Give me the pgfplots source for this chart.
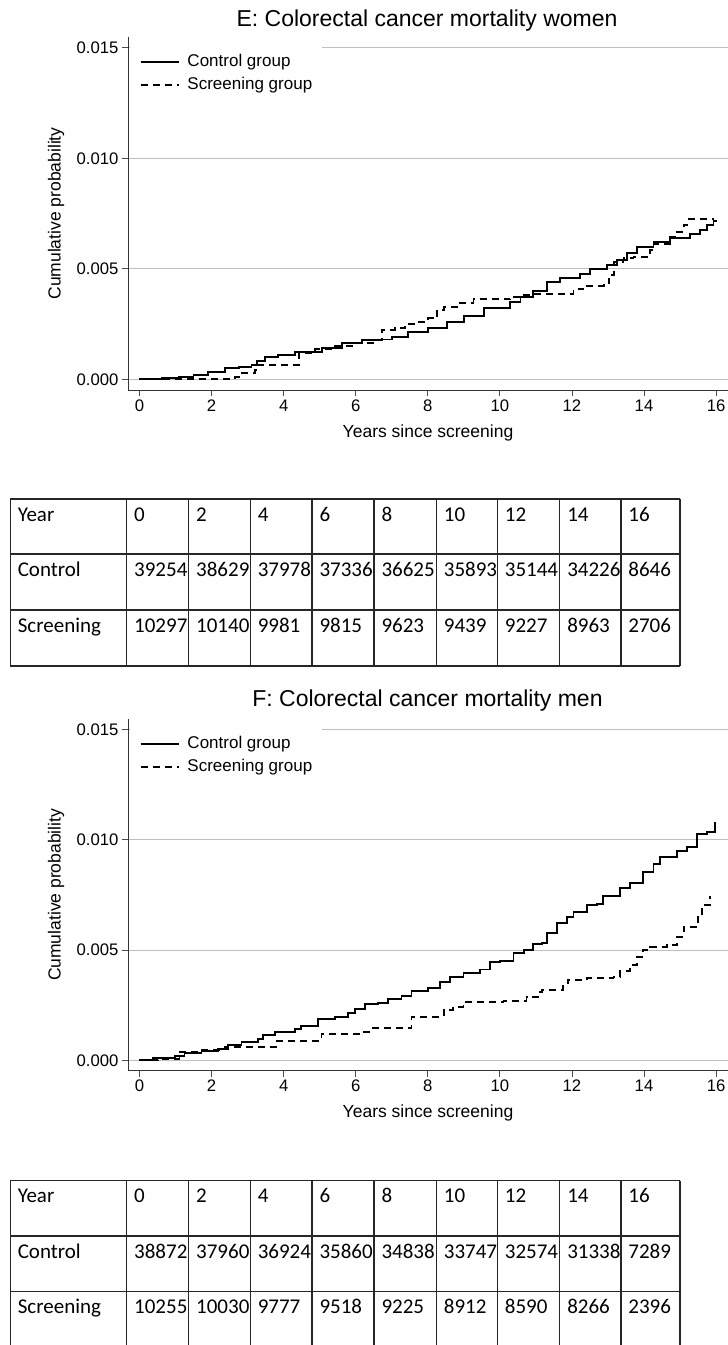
\documentclass[border=0pt]{standalone}
\usepackage{pgfplots}
\pgfplotsset{compat=1.18}
\usepackage{fontspec}
\setmainfont{Liberation Sans}
\newfontfamily\calibri{Carlito}

\pgfplotstableread{
x y
0 0
0.62 0.00005
1.08 0.00012
1.5 0.0002
1.91 0.00034
2.37 0.00051
2.75 0.00057
3.11 0.00065
3.25 0.00084
3.49 0.0010
3.85 0.0011
4.32 0.00124
4.59 0.00125
5.06 0.00143
5.61 0.00166
6.17 0.00178
6.54 0.00180
7.0 0.00193
7.46 0.00215
8.01 0.00233
8.53 0.0026
9.0 0.00286
9.55 0.00321
10.29 0.00351
10.57 0.00374
10.93 0.00401
11.3 0.00442
11.67 0.00457
12.23 0.00476
12.51 0.00499
12.97 0.00517
13.25 0.0054
13.52 0.0057
13.8 0.00597
14.26 0.0062
14.73 0.00638
15.28 0.00656
15.56 0.00676
15.74 0.00698
15.93 0.00718
16.0 0.0072
}\Ectrl

\pgfplotstableread{
x y
0 0
1.91 0.00002
2.65 0.00012
2.84 0.0003
3.2 0.00042
3.3 0.00065
4.43 0.00118
4.87 0.00136
5.43 0.00152
5.98 0.00166
6.54 0.00178
6.72 0.00223
7.09 0.00231
7.37 0.0025
7.74 0.0026
8.01 0.00276
8.26 0.00314
8.44 0.00326
8.9 0.00344
9.27 0.00362
10.29 0.00374
10.57 0.00381
10.93 0.00386
12.04 0.00407
12.32 0.00422
12.88 0.00434
13.02 0.00472
13.16 0.00532
13.43 0.00548
13.71 0.00555
14.17 0.00585
14.26 0.00612
14.73 0.00645
14.91 0.00668
15.1 0.00698
15.19 0.00724
15.95 0.00724
}\Escr

\pgfplotstableread{
x y
0 0
0.37 0.00012
0.98 0.0002
1.25 0.00032
1.72 0.00044
2.18 0.00051
2.46 0.00069
2.83 0.00084
3.29 0.00095
3.43 0.00115
3.75 0.0013
4.31 0.00141
4.49 0.00156
4.95 0.00186
5.42 0.00198
5.79 0.00216
5.97 0.00234
6.25 0.00255
6.62 0.00261
6.9 0.00278
7.27 0.00291
7.55 0.00316
8.01 0.00329
8.34 0.00356
8.62 0.00379
8.99 0.00397
9.45 0.00412
9.73 0.00444
10.0 0.00452
10.38 0.00488
10.66 0.0050
10.93 0.00527
11.16 0.00533
11.3 0.00576
11.58 0.00624
11.86 0.00651
12.04 0.00674
12.41 0.00704
12.69 0.00709
12.87 0.00745
13.34 0.0078
13.61 0.00805
13.98 0.00855
14.26 0.0089
14.45 0.00923
14.91 0.0095
15.19 0.00968
15.46 0.01026
15.74 0.01036
15.97 0.01082
}\Fctrl

\pgfplotstableread{
x y
0 0
0.51 0.00005
1.11 0.00039
1.72 0.00046
2.37 0.00062
3.8 0.00089
5.05 0.00118
6.2 0.00128
6.43 0.00145
7.55 0.00198
8.44 0.00228
8.71 0.00243
8.99 0.00263
10.1 0.0027
10.74 0.00288
11.07 0.00311
11.16 0.00319
11.76 0.00349
11.9 0.00364
12.41 0.00372
13.15 0.00379
13.34 0.00406
13.61 0.00432
13.8 0.0047
13.98 0.0050
14.17 0.00515
14.63 0.00523
14.91 0.0056
15.1 0.00603
15.5 0.00651
15.6 0.00704
15.83 0.00742
15.86 0.00742
}\Fscr

\pgfplotsset{
  kmstyle/.style={
    scale only axis, width=600pt,
    xmin=-0.319, xmax=16.33,
    axis lines*=left,
    axis line style={-, black!80, line width=1pt},
    tick align=outside, major tick length=6pt,
    tick style={black!70, line width=0.9pt},
    xtick={0,2,...,16}, ytick={0,0.005,0.01,0.015},
    scaled y ticks=false,
    /pgf/number format/assume math mode=true,
    tick label style={font=\fontsize{16.7}{20}\selectfont},
    yticklabel style={/pgf/number format/fixed, /pgf/number format/fixed zerofill, /pgf/number format/precision=3},
    ymajorgrids, major grid style={black!25, line width=0.9pt},
    legend style={at={(axis description cs:0,1)}, anchor=north west, xshift=1.5pt,
      draw=none, fill=white,
      font=\fontsize{17}{20}\selectfont, inner xsep=10pt, inner ysep=16pt,
      column sep=8pt, row sep=6pt,
      nodes={inner sep=0pt, text height=13pt, text depth=4pt},
      /tikz/every even column/.append style={column sep=2pt}},
    legend cell align=left,
    legend image code/.code={\draw[#1] (0pt,0pt) -- (38pt,0pt);},
  },
  ctrl/.style={const plot, black, line width=1.8pt},
  scr/.style={const plot, black, line width=1.8pt, dash pattern=on 7pt off 5pt},
}

\begin{document}
\begin{tikzpicture}
\useasboundingbox (0pt,0pt) rectangle (728pt,-1345pt);

% ---------- Panel E ----------
\begin{axis}[kmstyle, at={(128pt,-390pt)}, anchor=south west, height=353pt,
  ymin=-0.000484, ymax=0.01549]
\addplot[ctrl] table {\Ectrl};
\addlegendentry{Control group}
\addplot[scr] table {\Escr};
\addlegendentry{Screening group}
\end{axis}
\node[anchor=base, font=\fontsize{23}{27}\selectfont] at (427pt,-26.7pt) {E: Colorectal cancer mortality women};
\node[anchor=base, rotate=90, font=\fontsize{17.5}{21}\selectfont] at (60.5pt,-213.5pt) {Cumulative probability};
\node[anchor=base, font=\fontsize{17.5}{21}\selectfont] at (428pt,-437pt) {Years since screening};

% ---------- Panel F ----------
\begin{axis}[kmstyle, at={(128pt,-1070.7pt)}, anchor=south west, height=351.7pt,
  ymin=-0.000471, ymax=0.01547]
\addplot[ctrl] table {\Fctrl};
\addlegendentry{Control group}
\addplot[scr] table {\Fscr};
\addlegendentry{Screening group}
\end{axis}
\node[anchor=base, font=\fontsize{23}{27}\selectfont] at (427.5pt,-706.5pt) {F: Colorectal cancer mortality men};
\node[anchor=base, rotate=90, font=\fontsize{17.5}{21}\selectfont] at (60.5pt,-894.9pt) {Cumulative probability};
\node[anchor=base, font=\fontsize{17.5}{21}\selectfont] at (428pt,-1117.7pt) {Years since screening};

% ---------- Tables ----------
\tikzset{cell/.style={anchor=base west, inner sep=0pt, font=\calibri\fontsize{21}{25}\selectfont},
  tline/.style={black!85, line width=1.3pt}}
\def\colxs{10.3,126.7,188.7,250.3,312,374,436.4,497.4,559.8,620.9,680}

% Table 1
\foreach \x in \colxs {\draw[tline] (\x pt,-499pt) -- (\x pt,-666pt);}
\foreach \y in {499,554,610,666} {\draw[tline] (10.3pt,-\y pt) -- (680pt,-\y pt);}
\foreach \x/\t in {10.3/Year,126.7/0,188.7/2,250.3/4,312/6,374/8,436.4/10,497.4/12,559.8/14,620.9/16}
  {\node[cell] at (\x pt+7.3pt,-521pt) {\t};}
\foreach \x/\t in {10.3/Control,126.7/39254,188.7/38629,250.3/37978,312/37336,374/36625,436.4/35893,497.4/35144,559.8/34226,620.9/8646}
  {\node[cell] at (\x pt+7.3pt,-576pt) {\t};}
\foreach \x/\t in {10.3/Screening,126.7/10297,188.7/10140,250.3/9981,312/9815,374/9623,436.4/9439,497.4/9227,559.8/8963,620.9/2706}
  {\node[cell] at (\x pt+7.3pt,-632pt) {\t};}

% Table 2
\foreach \x in \colxs {\draw[tline] (\x pt,-1180.7pt) -- (\x pt,-1347pt);}
\foreach \y in {1180.7,1236,1291.7,1347} {\draw[tline] (10.3pt,-\y pt) -- (680pt,-\y pt);}
\foreach \x/\t in {10.3/Year,126.7/0,188.7/2,250.3/4,312/6,374/8,436.4/10,497.4/12,559.8/14,620.9/16}
  {\node[cell] at (\x pt+7.3pt,-1202.7pt) {\t};}
\foreach \x/\t in {10.3/Control,126.7/38872,188.7/37960,250.3/36924,312/35860,374/34838,436.4/33747,497.4/32574,559.8/31338,620.9/7289}
  {\node[cell] at (\x pt+7.3pt,-1258pt) {\t};}
\foreach \x/\t in {10.3/Screening,126.7/10255,188.7/10030,250.3/9777,312/9518,374/9225,436.4/8912,497.4/8590,559.8/8266,620.9/2396}
  {\node[cell] at (\x pt+7.3pt,-1313.7pt) {\t};}
\end{tikzpicture}
\end{document}
